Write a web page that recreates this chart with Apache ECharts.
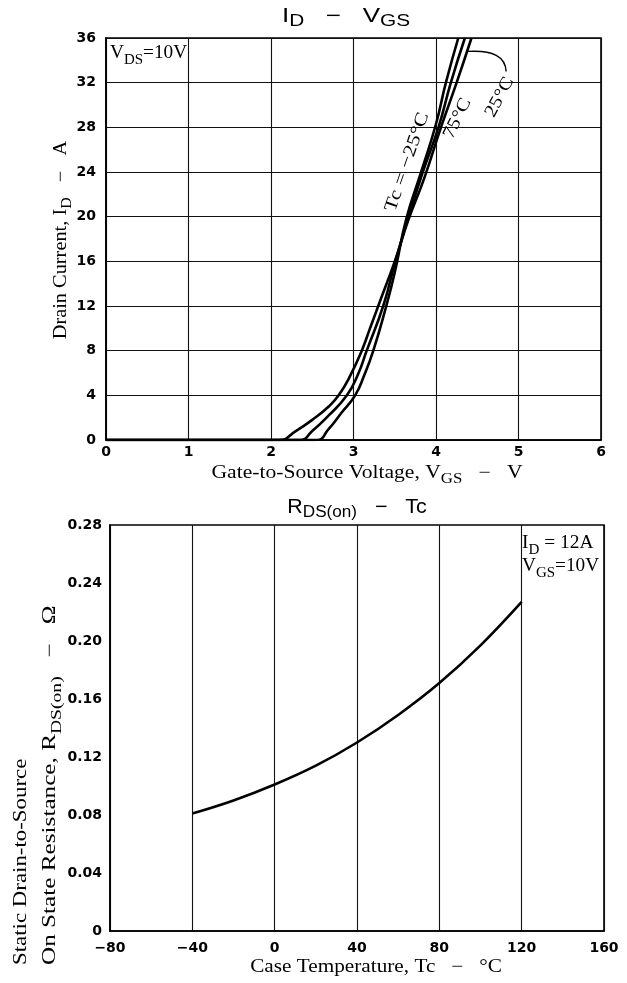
<!DOCTYPE html>
<html><head><meta charset="utf-8">
<script src="https://cdn.jsdelivr.net/npm/echarts@6/dist/echarts.min.js"></script>
<style>html,body{margin:0;padding:0;background:#fff}#c{width:627px;height:983px}</style>
</head><body><div id="c"></div>
<script>
// ---- Data: I_D vs V_GS (V, A) ----
const vgsTicks = [0, 1, 2, 3, 4, 5, 6];
const idTicks = [0, 4, 8, 12, 16, 20, 24, 28, 32, 36];
const curveM25 = [[0,0],[2.55,0],[2.7,1.0],[2.85,2.4],[3.02,4.0],[3.13,5.8],[3.24,8.0],[3.39,11.8],[3.5,15.0],[3.64,19.8],[3.82,24.0],[4.0,28.3],[4.12,32.0],[4.27,36.0]];
const curve25  = [[0,0],[2.35,0],[2.5,0.8],[2.7,2.2],[2.92,4.0],[3.05,5.8],[3.16,8.0],[3.36,12.0],[3.5,15.8],[3.66,19.8],[3.84,24.0],[4.03,28.0],[4.18,32.0],[4.35,36.0]];
const curve75  = [[0,0],[2.1,0],[2.3,0.8],[2.5,1.8],[2.7,3.0],[2.82,4.0],[2.95,5.6],[3.1,8.0],[3.2,10.0],[3.34,12.8],[3.5,16.0],[3.66,19.6],[3.86,23.5],[4.06,28.0],[4.25,32.0],[4.43,36.0]];
// ---- Data: R_DS(on) vs Tc (°C, Ω) ----
const tcValues = [-40, -20, 0, 20, 40, 60, 80, 100, 120];
const rdsValues = [0.081, 0.090, 0.101, 0.114, 0.130, 0.149, 0.171, 0.197, 0.227];
const tcTicks = [-80, -40, 0, 40, 80, 120, 160];
const rdsTicks = [0, 0.04, 0.08, 0.12, 0.16, 0.20, 0.24, 0.28];

const chart = echarts.init(document.getElementById('c'), null, {renderer: 'canvas'});
const tickFont = {fontFamily: 'DejaVu Sans', fontWeight: 'bold', fontSize: 14, color: '#000'};
const serif = 'Liberation Serif';
const lineStyle = {color: '#000', width: 2.6};
const gridLine = {show: true, lineStyle: {color: '#111', width: 1.1}};

function subRich(size) {
  return {
    m: {fontFamily: serif, fontSize: size, color: '#000'},
    s: {fontFamily: serif, fontSize: Math.round(size * 0.8), color: '#000', padding: [Math.round(size * 0.7), 0, 0, 0]}
  };
}
function sansRich(size) {
  return {
    m: {fontFamily: 'Liberation Sans', fontSize: size, color: '#000'},
    s: {fontFamily: 'Liberation Sans', fontSize: Math.round(size * 0.82), color: '#000', padding: [Math.round(size * 0.6), 0, 0, 0]}
  };
}

const option = {
  animation: false,
  backgroundColor: '#fff',
  grid: [
    {left: 106, top: 38, width: 495, height: 402, show: true, borderColor: '#000', borderWidth: 1.6, backgroundColor: 'transparent'},
    {left: 110, top: 525, width: 494, height: 406, show: true, borderColor: '#000', borderWidth: 1.6, backgroundColor: 'transparent'}
  ],
  xAxis: [
    {type: 'value', gridIndex: 0, min: vgsTicks[0], max: vgsTicks[vgsTicks.length - 1], interval: 1,
     axisLine: {show: true, onZero: false, lineStyle: {color: '#000', width: 1.6}}, axisTick: {show: false},
     axisLabel: Object.assign({margin: 5}, tickFont), splitLine: gridLine},
    {type: 'value', gridIndex: 1, min: tcTicks[0], max: tcTicks[tcTicks.length - 1], interval: 40,
     axisLine: {show: true, onZero: false, lineStyle: {color: '#000', width: 1.6}}, axisTick: {show: false},
     axisLabel: Object.assign({margin: 10, formatter: v => v < 0 ? '\u2212' + Math.abs(v) : String(v)}, tickFont),
     splitLine: gridLine}
  ],
  yAxis: [
    {type: 'value', gridIndex: 0, min: idTicks[0], max: idTicks[idTicks.length - 1], interval: 4,
     axisLine: {show: true, onZero: false, lineStyle: {color: '#000', width: 1.6}}, axisTick: {show: false},
     axisLabel: Object.assign({margin: 10}, tickFont), splitLine: gridLine},
    {type: 'value', gridIndex: 1, min: rdsTicks[0], max: rdsTicks[rdsTicks.length - 1], interval: 0.04,
     axisLine: {show: true, onZero: false, lineStyle: {color: '#000', width: 1.6}}, axisTick: {show: false},
     axisLabel: Object.assign({margin: 8, formatter: v => v === 0 ? '0' : v.toFixed(2)}, tickFont, {fontSize: 14}),
     splitLine: {show: false}}
  ],
  series: [
    {type: 'line', xAxisIndex: 0, yAxisIndex: 0, data: curveM25, smooth: 0.5, symbol: 'none', lineStyle: lineStyle, clip: true},
    {type: 'line', xAxisIndex: 0, yAxisIndex: 0, data: curve25, smooth: 0.5, symbol: 'none', lineStyle: lineStyle, clip: true},
    {type: 'line', xAxisIndex: 0, yAxisIndex: 0, data: curve75, smooth: 0.5, symbol: 'none', lineStyle: lineStyle, clip: true},
    {type: 'line', xAxisIndex: 1, yAxisIndex: 1, data: tcValues.map((t, i) => [t, rdsValues[i]]), smooth: 0.4, symbol: 'none', lineStyle: lineStyle}
  ]
};
chart.setOption(option);

const p0 = (x, y) => chart.convertToPixel({gridIndex: 0}, [x, y]);
const a1 = p0(4.39, 34.8), ac = p0(4.84, 35.0), a2 = p0(4.85, 33.0);
const lab1 = p0(3.65, 24.9), lab2 = p0(4.26, 28.8), lab3 = p0(4.77, 30.7);
const deg = Math.PI / 180;

function txt(x, y, text, rich, opts) {
  return Object.assign({type: 'text', x: x, y: y, style: {text: text, rich: rich, align: 'center', verticalAlign: 'middle'}}, opts || {});
}

chart.setOption({
  graphic: [
    // titles
    txt(346, 16, '{m|I}{s|D}{m|   \u2212   V}{s|GS}', sansRich(20), {scaleX: 1.3}),
    txt(357, 507, '{m|R}{s|DS(on)}{m|   \u2212   Tc}', sansRich(20), {scaleX: 1.07}),
    // axis titles
    txt(367, 473, '{m|Gate-to-Source Voltage, V}{s|GS}{m|   \u2212   V}', subRich(18), {scaleX: 1.2}),
    txt(376, 967, '{m|Case Temperature, Tc   \u2212   \u00b0C}', subRich(18), {scaleX: 1.18}),
    txt(61, 240, '{m|Drain Current, I}{s|D}{m|   \u2212   A}', subRich(18), {rotation: 90 * deg, scaleX: 1.13}),
    {type: 'text', x: 12, y: 965, rotation: 90 * deg, scaleX: 1.27, style: {text: '{m|Static Drain-to-Source}', rich: subRich(18), align: 'left', verticalAlign: 'top'}},
    {type: 'text', x: 37, y: 965, rotation: 90 * deg, scaleX: 1.4, style: {text: '{m|On State Resistance, R}{s|DS(on)}{m|   \u2212   \u03a9}', rich: subRich(18), align: 'left', verticalAlign: 'top'}},
    // condition notes
    {type: 'text', x: 110, y: 40, scaleX: 1.07, style: {text: '{m|V}{s|DS}{m|=10V}', rich: subRich(18)}},
    {type: 'text', x: 522, y: 530, scaleX: 1.08, style: {text: '{m|I}{s|D}{m| = 12A}', rich: subRich(18)}},
    {type: 'text', x: 522, y: 553, scaleX: 1.07, style: {text: '{m|V}{s|GS}{m|=10V}', rich: subRich(18)}},
    // curve labels
    {type: 'text', x: lab1[0], y: lab1[1], rotation: 71 * deg, scaleX: 1.23, style: {text: 'Tc = \u221225\u00b0C', font: '18px "Liberation Serif"', fill: '#000', align: 'center', verticalAlign: 'middle'}},
    {type: 'text', x: lab2[0], y: lab2[1], rotation: 64 * deg, scaleX: 1.15, style: {text: '75\u00b0C', font: '18px "Liberation Serif"', fill: '#000', align: 'center', verticalAlign: 'middle'}},
    {type: 'text', x: lab3[0], y: lab3[1], rotation: 62 * deg, scaleX: 1.15, style: {text: '25\u00b0C', font: '18px "Liberation Serif"', fill: '#000', align: 'center', verticalAlign: 'middle'}},
    {type: 'bezierCurve', shape: {x1: a1[0], y1: a1[1], cpx1: ac[0], cpy1: ac[1], x2: a2[0], y2: a2[1]}, style: {stroke: '#000', lineWidth: 1.4, fill: null}}
  ]
});
</script></body></html>
